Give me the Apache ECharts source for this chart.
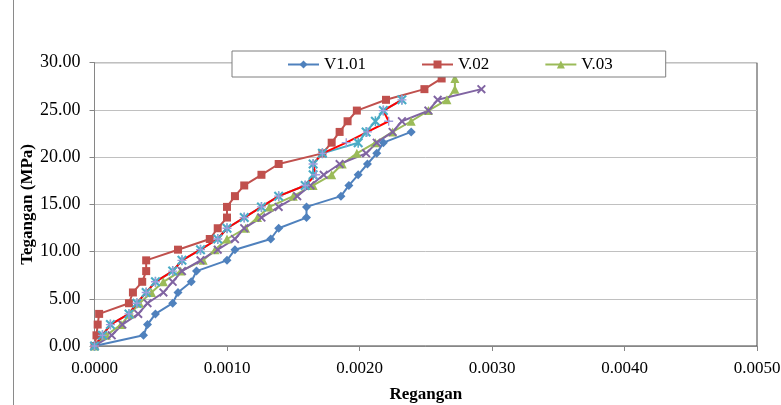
<!DOCTYPE html>
<html>
<head>
<meta charset="utf-8">
<script src="https://cdn.jsdelivr.net/npm/echarts@6/dist/echarts.min.js"></script>
<style>
  html, body { margin: 0; padding: 0; background: #ffffff; }
  #chart { width: 781px; height: 405px; }
</style>
</head>
<body>
<div id="chart"></div>
<script>
// Stress levels applied at each load step (MPa)
const stressLevels = [0, 1.13, 2.27, 3.40, 4.53, 5.67, 6.80, 7.93, 9.07, 10.20, 11.33, 12.47, 13.60,
  14.73, 15.87, 17.00, 18.13, 19.27, 20.40, 21.53, 22.67, 23.80, 24.93, 26.07, 27.20, 28.33];

// Measured strain for each specimen, one value per load step
const strainV101 = [0, 0.00037, 0.00040, 0.00046, 0.00059, 0.00063, 0.00073, 0.00077, 0.00100, 0.00106,
  0.00133, 0.00139, 0.00160, 0.00160, 0.00186, 0.00192, 0.00199, 0.00206, 0.00213, 0.00218, 0.00239];
const strainV02 = [0, 0.000015, 0.000024, 0.000035, 0.00026, 0.00029, 0.00036, 0.00039, 0.00039, 0.00063,
  0.00087, 0.00093, 0.00100, 0.00100, 0.00106, 0.00113, 0.00126, 0.00139, 0.00172, 0.00179, 0.00185,
  0.00191, 0.00198, 0.00220, 0.00249, 0.00262];
const strainV03 = [0, 0.00009, 0.00020, 0.00027, 0.00034, 0.00043, 0.00052, 0.00065, 0.00082, 0.00091,
  0.00100, 0.00114, 0.00123, 0.00132, 0.00150, 0.00165, 0.00179, 0.00187, 0.00198, 0.00212, 0.00225,
  0.00239, 0.00252, 0.00266, 0.00272, 0.00272];
const strainV04 = [0, 0.00013, 0.00021, 0.00033, 0.00040, 0.00052, 0.00059, 0.00066, 0.00080, 0.00093,
  0.00106, 0.00113, 0.00126, 0.00139, 0.00153, 0.00163, 0.00173, 0.00185, 0.00205, 0.00213, 0.00225,
  0.00232, 0.00252, 0.00259, 0.00292];
const strainV05 = [0, 0.00006, 0.00012, 0.00026, 0.00032, 0.00039, 0.00046, 0.00059, 0.00066, 0.00080,
  0.00093, 0.00100, 0.00113, 0.00126, 0.00139, 0.00159, 0.00165, 0.00165, 0.00172, 0.00199, 0.00205,
  0.00212, 0.00218, 0.00232];
const strainV06 = [0, 0.00006, 0.00012, 0.00026, 0.00032, 0.00039, 0.00046, 0.00059, 0.00066, 0.00080,
  0.00093, 0.00100, 0.00113, 0.00126, 0.00139, 0.00159, 0.00167, 0.00165, 0.00172, 0.00190, 0.00206,
  0.00222, 0.00218, 0.00232];

const seriesNames = ['V1.01', 'V.02', 'V.03', 'V.04', 'V.05', 'V.06'];
const legendNames = ['V1.01', 'V.02', 'V.03'];
const yTicks = { min: 0, max: 30, step: 5 };
const xTicks = { min: 0, max: 0.005, step: 0.001 };

function pairs(strain) {
  return strain.map((s, i) => [s, stressLevels[i]]);
}

const SERIF = '"Liberation Serif", "Times New Roman", serif';
const X_MARK = 'path://M0,3 L3,0 L20,17 L17,20 Z M17,0 L20,3 L3,20 L0,17 Z';
const STAR_MARK = 'path://M0,3 L3,0 L20,17 L17,20 Z M17,0 L20,3 L3,20 L0,17 Z M8.5,0 L11.5,0 L11.5,20 L8.5,20 Z';
const PLUS_MARK = 'path://M8.5,0 L11.5,0 L11.5,20 L8.5,20 Z M0,8.5 L20,8.5 L20,11.5 L0,11.5 Z';

const styles = [
  { data: strainV101, color: '#4F81BD', symbol: 'diamond', size: 9 },
  { data: strainV02, color: '#C0504D', symbol: 'rect', size: 8 },
  { data: strainV03, color: '#9BBB59', symbol: 'triangle', size: 9 },
  { data: strainV04, color: '#8064A2', symbol: X_MARK, size: 9 },
  { data: strainV05, color: '#4BACC6', symbol: STAR_MARK, size: 10 },
  { data: strainV06, color: '#FF0000', symbol: PLUS_MARK, size: 9, markColor: '#9D9BDB' }
];

const chart = echarts.init(document.getElementById('chart'), null, { renderer: 'canvas' });

chart.setOption({
  animation: false,
  backgroundColor: '#ffffff',
  textStyle: { fontFamily: SERIF },
  grid: {
    left: 94.5, right: 24, top: 62.7, bottom: 59,
    outerBoundsMode: 'none',
    containLabel: false,
    show: true, borderColor: '#404040', borderWidth: 1, backgroundColor: 'transparent'
  },
  legend: {
    data: legendNames,
    left: 232, top: 51,
    padding: [5, 53, 4, 55],
    itemGap: 55,
    itemWidth: 31, itemHeight: 10,
    backgroundColor: '#ffffff',
    borderColor: '#7f7f7f', borderWidth: 1,
    textStyle: { fontFamily: SERIF, fontSize: 17, color: '#000', lineHeight: 15 }
  },
  xAxis: {
    type: 'value',
    min: xTicks.min, max: xTicks.max, interval: xTicks.step,
    name: 'Regangan',
    nameLocation: 'middle',
    nameGap: 40,
    nameMoveOverlap: false,
    nameTextStyle: { fontFamily: SERIF, fontSize: 17, fontWeight: 'bold', color: '#000' },
    axisLine: { show: true, lineStyle: { color: '#868686', width: 1 } },
    axisTick: { show: true, inside: false, length: 5, lineStyle: { color: '#868686' } },
    axisLabel: { fontFamily: SERIF, fontSize: 17, color: '#000', margin: 14,
      formatter: v => v.toFixed(4) },
    splitLine: { show: false }
  },
  yAxis: {
    type: 'value',
    min: yTicks.min, max: yTicks.max, interval: yTicks.step,
    name: 'Tegangan (MPa)',
    nameLocation: 'middle',
    nameGap: 58,
    nameMoveOverlap: false,
    nameTextStyle: { fontFamily: SERIF, fontSize: 17, fontWeight: 'bold', color: '#000' },
    axisLine: { show: true, lineStyle: { color: '#868686', width: 1 } },
    axisTick: { show: true, inside: false, length: 5, lineStyle: { color: '#868686' } },
    axisLabel: { fontFamily: SERIF, fontSize: 18, color: '#000', margin: 14,
      lineHeight: 18, verticalAlign: 'middle',
      formatter: v => v.toFixed(2) },
    splitLine: { show: true, lineStyle: { color: '#C0C0C0', width: 1 } }
  },
  graphic: [{
    type: 'line',
    shape: { x1: 13.5, y1: 0, x2: 13.5, y2: 405 },
    style: { stroke: '#8a8a8a', lineWidth: 1 },
    silent: true
  }],
  series: styles.map((s, i) => ({
    name: seriesNames[i],
    type: 'line',
    data: pairs(s.data),
    symbol: s.symbol,
    symbolSize: s.size,
    showSymbol: true,
    showAllSymbol: true,
    clip: false,
    lineStyle: { color: s.color, width: 2 },
    itemStyle: { color: s.markColor || s.color, borderWidth: 0 },
    emphasis: { disabled: true }
  }))
});
</script>
</body>
</html>
